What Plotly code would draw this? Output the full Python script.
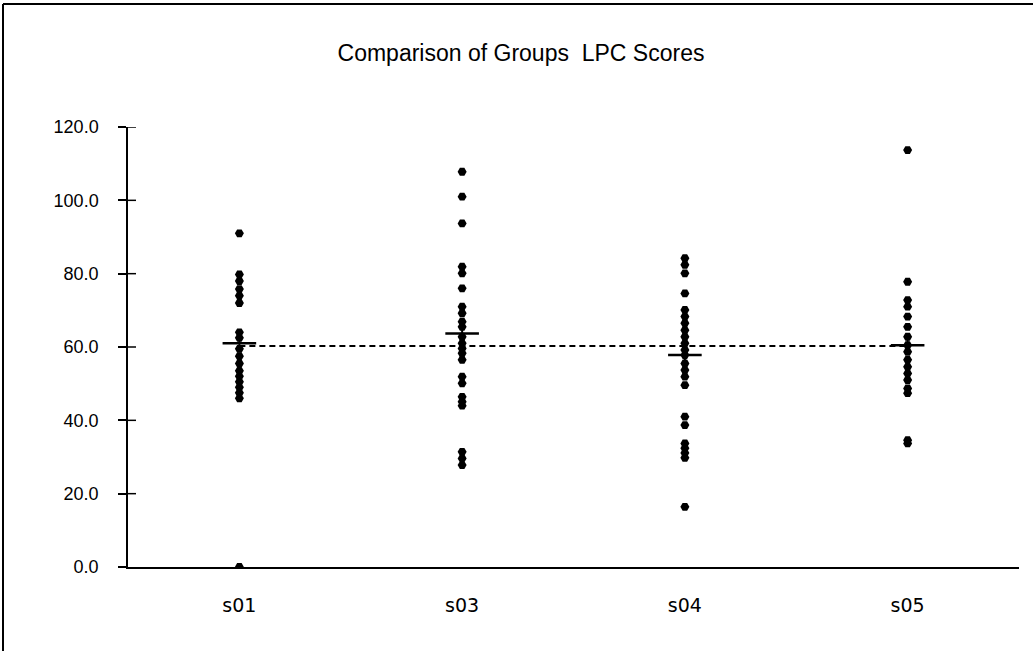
import plotly.graph_objects as go

categories = ["s01", "s03", "s04", "s05"]

s01 = [91.0, 79.8, 78.0, 75.8, 74.0, 72.0, 64.0, 62.5, 59.5, 57.5, 55.5, 53.5, 52.0, 50.5, 49.0, 47.5, 46.0, 0.0]
s03 = [107.8, 101.0, 93.7, 81.9, 80.1, 76.0, 71.0, 69.2, 66.9, 65.5, 62.8, 61.0, 59.6, 58.3, 56.5,
       51.9, 50.1, 46.4, 45.1, 44.0, 31.4, 29.6, 27.8]
s04 = [84.2, 82.4, 80.1, 74.6, 70.1, 68.3, 66.5, 64.6, 62.8, 61.0, 59.2, 57.8, 55.5, 53.7, 51.9, 49.6,
       41.0, 38.7, 33.7, 32.4, 31.1, 29.8, 16.4]
s05 = [113.7, 77.8, 72.8, 71.0, 68.3, 65.5, 62.8, 60.5, 58.7, 56.5, 54.6, 52.8, 51.0, 48.7, 47.4, 34.6, 33.7]

group_means = [61.0, 63.7, 57.8, 60.5]
grand_mean = 60.3

y_ticks = [0, 20, 40, 60, 80, 100, 120]
y_tick_labels = ["0.0", "20.0", "40.0", "60.0", "80.0", "100.0", "120.0"]

groups = [s01, s03, s04, s05]

fig = go.Figure()

xs, ys = [], []
for cat, vals in zip(categories, groups):
    xs += [cat] * len(vals)
    ys += vals

fig.add_trace(go.Scatter(
    x=[categories[0], categories[-1]], y=[grand_mean, grand_mean], mode="lines",
    line=dict(color="black", width=2, dash="6px,4px"),
    showlegend=False, hoverinfo="skip"))

fig.add_trace(go.Scatter(
    x=xs, y=ys, mode="markers",
    marker=dict(symbol="hexagon2", size=9, color="black", line=dict(width=0)),
    showlegend=False, hoverinfo="x+y"))

fig.add_trace(go.Scatter(
    x=categories, y=group_means, mode="markers",
    marker=dict(symbol="line-ew-open", size=24, color="black", line=dict(width=2.5, color="black")),
    showlegend=False))

fig.add_trace(go.Scatter(
    x=categories, y=group_means, mode="markers",
    marker=dict(symbol="line-ns-open", size=10, color="black", line=dict(width=2, color="black")),
    showlegend=False))

L, R, T, B = 128, 14, 127, 84
W, H = 1033, 651
pw, ph = W - L - R, H - T - B

shapes = [
    dict(type="line", xref="paper", yref="paper",
         x0=-(L - 3) / pw, x1=(W - L) / pw, y0=1 + (T - 4) / ph, y1=1 + (T - 4) / ph,
         line=dict(color="black", width=2)),
    dict(type="line", xref="paper", yref="paper",
         x0=-(L - 3) / pw, x1=-(L - 3) / pw, y0=1 + (T - 4) / ph, y1=-B / ph,
         line=dict(color="black", width=2)),
]
# inner half of the crossing y-axis tick marks
for t in y_ticks[1:]:
    shapes.append(dict(type="line", xref="paper", yref="y", x0=0, x1=8 / pw, y0=t, y1=t,
                       line=dict(color="black", width=1.5)))

fig.update_layout(
    width=W, height=H,
    margin=dict(l=L, r=R, t=T, b=B),
    paper_bgcolor="white", plot_bgcolor="white",
    font=dict(family="Liberation Sans", color="black"),
    title=dict(text="Comparison of Groups  LPC Scores", x=521 / W, xref="container",
               y=1 - 53 / H, yref="container", xanchor="center", yanchor="middle",
               font=dict(size=23, family="Liberation Sans", color="black")),
    xaxis=dict(type="category", categoryorder="array", categoryarray=categories,
               range=[-0.5, 3.5], showgrid=False, zeroline=False, showline=True,
               linecolor="black", linewidth=2, ticks="",
               tickfont=dict(size=19, family="DejaVu Sans"),
               ticklabelstandoff=20),
    yaxis=dict(range=[0, 120], tickvals=y_ticks, ticktext=y_tick_labels,
               showgrid=False, zeroline=False, showline=True, linecolor="black",
               linewidth=1.5, ticks="outside", ticklen=8, tickwidth=1.5,
               tickcolor="black", tickfont=dict(size=18, family="Liberation Sans"),
               ticklabelstandoff=16),
    shapes=shapes,
)

fig.write_html("out.html", config={"displayModeBar": False},
               post_script="document.body.style.margin='0';")
